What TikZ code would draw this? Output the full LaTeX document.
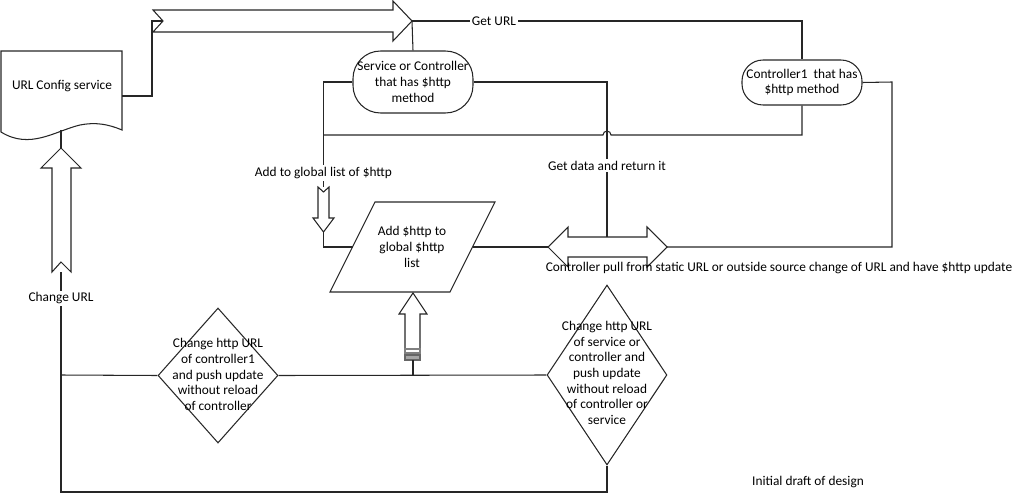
\documentclass[tikz,border=0pt]{standalone}
\usepackage{fontspec}
\setmainfont{Carlito}
\usetikzlibrary{shapes.geometric}
\begin{document}
\begin{tikzpicture}[x=0.02cm,y=-0.02cm,
    every node/.style={font=\fontsize{7.6}{8.9}\selectfont, align=center, inner sep=1pt},
    line/.style={draw=black!85, line width=0.6pt},
    blockarrow/.style={draw=black!85, line width=0.6pt, fill=white},
    ctrlbox/.style={draw=black!85, line width=0.6pt, rounded corners=#1, minimum width=2.4cm, inner sep=0pt},
    decision/.style={diamond, draw=black!85, line width=0.6pt, minimum width=2.4cm, inner sep=0pt},
    tag/.style={fill=white, inner sep=1pt}]
\useasboundingbox (0,0) rectangle (1021,497);

\draw[line] (1,51) -- (122,51) -- (122,130) .. controls (108,124) and (95,122) .. (80,125)
      .. controls (55,131) and (30,150) .. (1,132) -- cycle;
\draw[blockarrow] (153,10) -- (393,10) -- (393,1) -- (412,21) -- (393,41) -- (393,32) -- (153,32) -- (163,21) -- cycle;
\draw[blockarrow] (318,187) -- (323.5,192) -- (329,187) -- (329,218) -- (334,218) -- (323.5,232) -- (313,218) -- (318,218) -- cycle;
\draw[line] (375,202) -- (495,202) -- (450,292) -- (330,292) -- cycle;
\draw[blockarrow] (548,247) -- (568,227) -- (568,237) -- (647,237) -- (647,227) -- (667,247) -- (647,267) -- (647,257) -- (568,257) -- (568,267) -- cycle;
\draw[blockarrow] (413,293) -- (427,314) -- (420,314) -- (420,349) -- (405,349) -- (405,314) -- (399,314) -- cycle;
\draw[draw=gray, line width=0.6pt] (405,349) rectangle (420,353);
\draw[draw=gray!80!black, fill=gray!70, line width=0.6pt] (405,355) rectangle (420,360);
\draw[blockarrow] (61,148) -- (81,168) -- (71,168) -- (71,272) -- (61,262) -- (52,272) -- (52,168) -- (41,168) -- cycle;

\node (cfg) at (62,86) {URL Config service};
\node[ctrlbox=0.55cm, minimum height=1.24cm] (svc) at (413,82) {Service or Controller\\that has \$http\\method};
\node[ctrlbox=0.42cm, minimum height=0.9cm] (ctl) at (802,82.5) {Controller1~ that has\\\$http method};
\node (add) at (412,247) {Add \$http to\\global \$http\\list};
\node[decision, minimum height=2.7cm] (dec1) at (218,375.5) {};
\node (dec1txt) at (218,374.5) {Change http URL\\of controller1\\and push update\\without reload\\of controller};
\node[decision, minimum height=3.6cm] (dec2) at (607,375) {};
\node (dec2txt) at (607,373) {Change http URL\\of service or\\controller and\\push update\\without reload\\of controller or\\service};
\node (pull) at (779,268) {Controller pull from static URL or outside source change of URL and have \$http update};
\node (note) at (808,482) {Initial draft of design};

\coordinate (hub) at (412,21);
\coordinate (cfgout) at (122,96);
\coordinate (cfgin) at (61,130);
\coordinate (tail) at (163,21);
\coordinate (join) at (323.5,135);
\coordinate (hop) at (611,135);
\coordinate (listin) at (323.5,187);
\coordinate (listout) at (323.5,232);
\coordinate (addL) at (352.5,247);
\coordinate (addR) at (472.5,247);
\coordinate (pullL) at (548,247);
\coordinate (pullR) at (667,247);
\coordinate (pullT) at (607,237);
\coordinate (urlup) at (61,148);
\coordinate (urlfoot) at (61,272);
\coordinate (busJ) at (413,375);
\coordinate (block) at (413,360);

\draw[line] (cfgout) -| (152,21) -- (tail);
\draw[line] (hub) -- (svc.north);
\draw[line] (hub) -| node[tag, pos=0.105] (geturl) {Get URL} (ctl.north);
\draw[line] (svc.west) -| (join);
\draw[line] (ctl.south) |- (hop) arc[start angle=0, end angle=180, radius=0.08cm] -- (join);
\draw[line] (join) -- node[tag, pos=0.73] (addlbl) {Add to global list of \$http} (listin);
\draw[line] (svc.east) -| node[tag, pos=0.77] (getdata) {Get data and return it} (pullT);
\draw[line] (listout) |- (addL);
\draw[line] (addR) -- (pullL);
\draw[line] (pullR) -| (892,82) -- (ctl.east);
\draw[line] (urlup) -- (cfgin);
\draw[line] (urlfoot) -- node[tag, pos=0.12] (chgurl) {Change URL} (61,492) -| (dec2.south);
\draw[line] (61,375) -- (dec1.west);
\draw[line] (dec1.east) -- (dec2.west);
\draw[line] (busJ) -- (block);
\end{tikzpicture}
\end{document}
